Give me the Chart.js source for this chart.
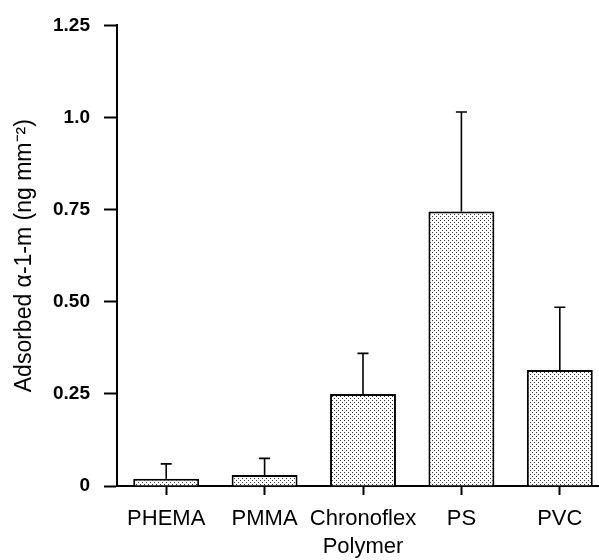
<!DOCTYPE html>
<html>
<head>
<meta charset="utf-8">
<script src="https://cdn.jsdelivr.net/npm/chart.js@4"></script>
<style>
  html, body { margin: 0; padding: 0; background: #fff; overflow: hidden; }
  canvas { display: block; }
</style>
</head>
<body>
<canvas id="chart" width="620" height="560"></canvas>
<script>
const polymers = ['PHEMA', 'PMMA', 'Chronoflex', 'PS', 'PVC'];
const adsorbed = [0.02, 0.03, 0.25, 0.745, 0.315];
const errUp = [0.04, 0.045, 0.11, 0.27, 0.17];
const yTickLabels = ['0', '0.25', '0.50', '0.75', '1.0', '1.25'];

const FONT = '"Liberation Sans", Arial, Helvetica, sans-serif';

// stipple fill like the printed figure
function dotPattern() {
  const c = document.createElement('canvas');
  c.width = 4; c.height = 4;
  const g = c.getContext('2d');
  g.fillStyle = '#fff';
  g.fillRect(0, 0, 4, 4);
  g.fillStyle = '#333';
  g.fillRect(0, 0, 1, 1);
  g.fillRect(2, 2, 1, 1);
  return g.createPattern(c, 'repeat');
}

const errorBars = {
  id: 'errorBars',
  afterDatasetsDraw(chart) {
    const { ctx, scales: { y } } = chart;
    const meta = chart.getDatasetMeta(0);
    ctx.save();
    ctx.strokeStyle = '#000';
    ctx.lineWidth = 1.6;
    meta.data.forEach((bar, i) => {
      const top = y.getPixelForValue(adsorbed[i] + errUp[i]);
      ctx.beginPath();
      ctx.moveTo(bar.x, bar.y);
      ctx.lineTo(bar.x, top);
      ctx.moveTo(bar.x - 5.5, top);
      ctx.lineTo(bar.x + 5.5, top);
      ctx.stroke();
    });
    ctx.restore();
  }
};

const ctx = document.getElementById('chart').getContext('2d');
new Chart(ctx, {
  type: 'bar',
  data: {
    labels: polymers,
    datasets: [{
      data: adsorbed,
      backgroundColor: dotPattern(),
      borderColor: '#000',
      borderWidth: 2,
      borderSkipped: 'bottom',
      categoryPercentage: 1,
      barPercentage: 0.67,
    }]
  },
  options: {
    responsive: false,
    animation: false,
    layout: { padding: { left: 0, top: 22, right: 11, bottom: 0 } },
    plugins: { legend: { display: false }, tooltip: { enabled: false } },
    scales: {
      x: {
        offset: true,
        afterFit: s => { s.height = 74; },
        grid: { offset: false, drawOnChartArea: false, drawTicks: true, tickLength: 9, tickColor: '#000', tickWidth: 2 },
        border: { display: true, color: '#000', width: 2 },
        ticks: { color: '#000', padding: 11, autoSkip: false, maxRotation: 0, font: { family: FONT, size: 22 } },
        title: { display: true, text: 'Polymer', color: '#000', padding: { top: 0, bottom: 0 }, font: { family: FONT, size: 22 } }
      },
      y: {
        min: 0, max: 1.25,
        afterFit: s => { s.width = 117; },
        afterBuildTicks: s => { s.ticks = yTickLabels.map(t => ({ value: parseFloat(t) })); },
        grid: { drawOnChartArea: false, drawTicks: true, tickLength: 13, tickColor: '#000', tickWidth: 2 },
        border: { display: true, color: '#000', width: 2 },
        ticks: {
          color: '#000', padding: 14,
          font: { family: FONT, size: 19, weight: 'bold' },
          callback: (v, i) => yTickLabels[i]
        },
        title: { display: true, text: 'Adsorbed α-1-m (ng mm⁻²)', color: '#000', padding: { top: 11, bottom: 0 }, font: { family: FONT, size: 23 } }
      }
    }
  },
  plugins: [errorBars]
});
</script>
</body>
</html>
